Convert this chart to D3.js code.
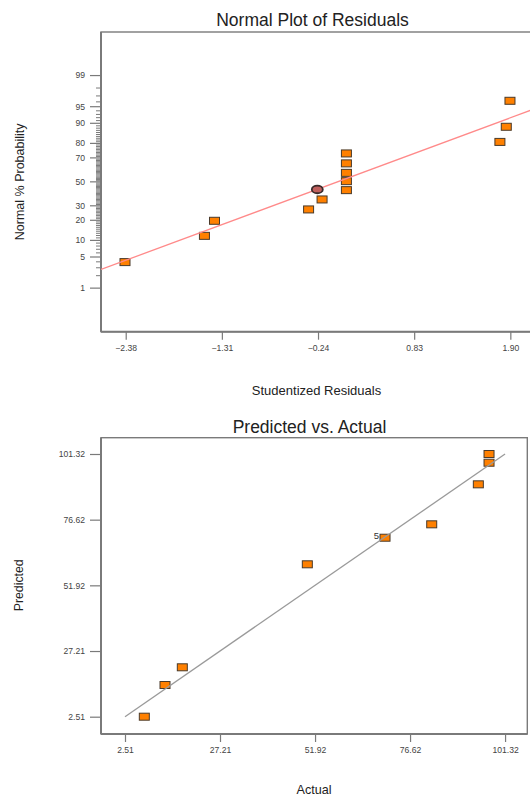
<!DOCTYPE html>
<html>
<head>
<meta charset="utf-8">
<script src="https://cdn.jsdelivr.net/npm/d3@7/dist/d3.min.js"></script>
<style>
  html, body { margin: 0; padding: 0; background: #fff; }
  svg { display: block; font-family: "Liberation Sans", Arial, sans-serif; }
</style>
</head>
<body>
<svg id="chart" width="530" height="796"></svg>
<script>
// ---- Normal plot of residuals ----
const residuals   = [-2.388, -1.504, -1.392, -0.345, -0.195, 0.076, 0.076, 0.076, 0.076, 0.076, 1.784, 1.855, 1.896];
const normalProb  = [3.95, 11.86, 19.7, 27.3, 35.0, 42.8, 50.6, 57.8, 65.7, 73.3, 80.9, 88.6, 96.2];
const selResidual = [-0.248];
const selProb     = [43.4];
const fitResidual = [-2.655, 2.13];
const fitProb     = [2.76, 94.17];
const resXTicks   = [-2.38, -1.31, -0.24, 0.83, 1.90];
const probTicks   = [1, 5, 10, 20, 30, 50, 70, 80, 90, 95, 99];
const probMinor   = d3.range(2, 99).filter(p => !probTicks.includes(p));

// ---- Predicted vs. actual ----
const actual      = [7.53, 12.91, 17.41, 49.91, 70.11, 82.25, 94.37, 97.15, 97.15];
const predicted   = [2.51, 14.43, 21.09, 59.83, 69.83, 74.87, 89.91, 98.04, 101.32];
const runCount    = [1, 1, 1, 1, 5, 1, 1, 1, 1];
const pvaTicks    = [2.51, 27.21, 51.92, 76.62, 101.32];

// Inverse standard normal CDF (Acklam)
function probit(p) {
  const a = [-3.969683028665376e+01, 2.209460984245205e+02, -2.759285104469687e+02, 1.383577518672690e+02, -3.066479806614716e+01, 2.506628277459239e+00];
  const b = [-5.447609879822406e+01, 1.615858368580409e+02, -1.556989798598866e+02, 6.680131188771972e+01, -1.328068155288572e+01];
  const c = [-7.784894002430293e-03, -3.223964580411365e-01, -2.400758277161838e+00, -2.549732539343734e+00, 4.374664141464968e+00, 2.938163982698783e+00];
  const d = [7.784695709041462e-03, 3.224671290700398e-01, 2.445134137142996e+00, 3.754408661907416e+00];
  const pl = 0.02425;
  let q, r;
  if (p < pl) {
    q = Math.sqrt(-2 * Math.log(p));
    return (((((c[0]*q+c[1])*q+c[2])*q+c[3])*q+c[4])*q+c[5]) / ((((d[0]*q+d[1])*q+d[2])*q+d[3])*q+1);
  } else if (p <= 1 - pl) {
    q = p - 0.5; r = q * q;
    return (((((a[0]*r+a[1])*r+a[2])*r+a[3])*r+a[4])*r+a[5])*q / (((((b[0]*r+b[1])*r+b[2])*r+b[3])*r+b[4])*r+1);
  } else {
    q = Math.sqrt(-2 * Math.log(1 - p));
    return -(((((c[0]*q+c[1])*q+c[2])*q+c[3])*q+c[4])*q+c[5]) / ((((d[0]*q+d[1])*q+d[2])*q+d[3])*q+1);
  }
}
const zOf = pct => probit(pct / 100);

const svg = d3.select("#chart");
const axisColor = "#7a7a7a";
const textColor = "#222";
const tickText = "#444";
const markFill = "#ff8000";
const markStroke = "#4a3a2a";
const MW = 10, MH = 7;

function styleAxis(g) {
  g.select(".domain").remove();
  g.selectAll(".tick line").attr("stroke", axisColor).attr("stroke-width", 1.2);
  g.selectAll(".tick text").attr("fill", tickText).attr("font-size", 8.6)
    .attr("font-family", "Liberation Sans, Arial, sans-serif");
}

// ================= Top panel =================
const tBox = { left: 101, right: 531, top: 32, bottom: 331.7 };
const xR = d3.scaleLinear().domain([-2.655, 2.13]).range([tBox.left, tBox.right]);
const yZ = d3.scaleLinear().domain([-3.28, 3.28]).range([tBox.bottom, tBox.top]);
const yP = p => yZ(zOf(p));

const g1 = svg.append("g");
g1.append("defs").append("clipPath").attr("id", "clipTop")
  .append("rect").attr("x", tBox.left).attr("y", tBox.top)
  .attr("width", tBox.right - tBox.left).attr("height", tBox.bottom - tBox.top);

// frame
g1.append("rect").attr("x", tBox.left).attr("y", tBox.top)
  .attr("width", tBox.right - tBox.left).attr("height", tBox.bottom - tBox.top)
  .attr("fill", "none").attr("stroke", axisColor).attr("stroke-width", 1.4);

// x axis
g1.append("g").attr("transform", `translate(0,${tBox.bottom})`)
  .call(d3.axisBottom(xR).tickValues(resXTicks).tickFormat(d3.format(".2f")).tickSize(8).tickPadding(5))
  .call(styleAxis);

// y axis on the normal-probability scale
const yTickG = g1.append("g");
yTickG.selectAll("line.minor").data(probMinor).join("line").attr("class", "minor")
  .attr("x1", tBox.left - 5).attr("x2", tBox.left)
  .attr("y1", d => yP(d)).attr("y2", d => yP(d))
  .attr("stroke", axisColor).attr("stroke-width", 1);
yTickG.selectAll("line.major").data(probTicks).join("line").attr("class", "major")
  .attr("x1", tBox.left - 11).attr("x2", tBox.left)
  .attr("y1", d => yP(d)).attr("y2", d => yP(d))
  .attr("stroke", axisColor).attr("stroke-width", 1.2);
yTickG.selectAll("text").data(probTicks).join("text")
  .attr("x", tBox.left - 16).attr("y", d => yP(d)).attr("dy", "0.34em")
  .attr("text-anchor", "end").attr("fill", tickText).attr("font-size", 8.6)
  .text(d => d);

// axis lines
g1.append("line").attr("x1", tBox.left).attr("x2", tBox.left).attr("y1", tBox.top).attr("y2", tBox.bottom)
  .attr("stroke", axisColor).attr("stroke-width", 2);
g1.append("line").attr("x1", tBox.left).attr("x2", tBox.right).attr("y1", tBox.bottom).attr("y2", tBox.bottom)
  .attr("stroke", axisColor).attr("stroke-width", 2);

// points
const topPts = residuals.map((r, i) => ({ r, p: normalProb[i] }));
g1.append("g").selectAll("rect").data(topPts).join("rect")
  .attr("x", d => xR(d.r) - MW / 2).attr("y", d => yP(d.p) - MH / 2)
  .attr("width", MW).attr("height", MH)
  .attr("fill", markFill).attr("stroke", markStroke).attr("stroke-width", 1);

// fitted line
g1.append("line").attr("clip-path", "url(#clipTop)")
  .attr("x1", xR(fitResidual[0])).attr("y1", yP(fitProb[0]))
  .attr("x2", xR(fitResidual[1])).attr("y2", yP(fitProb[1]))
  .attr("stroke", "#ff8a8a").attr("stroke-width", 1.3);

// highlighted run
g1.append("g").selectAll("ellipse").data(selResidual.map((r, i) => ({ r, p: selProb[i] }))).join("ellipse")
  .attr("cx", d => xR(d.r)).attr("cy", d => yP(d.p)).attr("rx", 5.5).attr("ry", 3.8)
  .attr("fill", "#c0605e").attr("stroke", "#3a2a2a").attr("stroke-width", 1.8);

// titles
g1.append("text").attr("x", 312.5).attr("y", 26).attr("text-anchor", "middle")
  .attr("font-size", 17.5).attr("fill", textColor).text("Normal Plot of Residuals");
g1.append("text").attr("x", 316.5).attr("y", 395).attr("text-anchor", "middle")
  .attr("font-size", 13).attr("fill", textColor).text("Studentized Residuals");
g1.append("text").attr("transform", `translate(23.5,${yP(50)}) rotate(-90)`).attr("text-anchor", "middle")
  .attr("font-size", 12.5).attr("fill", textColor).text("Normal % Probability");

// ================= Bottom panel =================
const bBox = { left: 101, right: 527.3, top: 437.7, bottom: 734 };
const xA = d3.scaleLinear().domain([-3.73, 107.1]).range([bBox.left, bBox.right]);
const yPr = d3.scaleLinear().domain([-4.0, 107.45]).range([bBox.bottom, bBox.top]);

const g2 = svg.append("g");
g2.append("rect").attr("x", bBox.left).attr("y", bBox.top)
  .attr("width", bBox.right - bBox.left).attr("height", bBox.bottom - bBox.top)
  .attr("fill", "none").attr("stroke", axisColor).attr("stroke-width", 1.4);

g2.append("g").attr("transform", `translate(0,${bBox.bottom})`)
  .call(d3.axisBottom(xA).tickValues(pvaTicks).tickFormat(d3.format(".2f")).tickSize(8).tickPadding(5))
  .call(styleAxis);
g2.append("g").attr("transform", `translate(${bBox.left},0)`)
  .call(d3.axisLeft(yPr).tickValues(pvaTicks).tickFormat(d3.format(".2f")).tickSize(11).tickPadding(5))
  .call(styleAxis);

g2.append("line").attr("x1", bBox.left).attr("x2", bBox.left).attr("y1", bBox.top).attr("y2", bBox.bottom)
  .attr("stroke", axisColor).attr("stroke-width", 2);
g2.append("line").attr("x1", bBox.left).attr("x2", bBox.right).attr("y1", bBox.bottom).attr("y2", bBox.bottom)
  .attr("stroke", axisColor).attr("stroke-width", 2);

const botPts = actual.map((a, i) => ({ a, p: predicted[i], n: runCount[i] }));
g2.append("g").selectAll("rect").data(botPts).join("rect")
  .attr("x", d => xA(d.a) - MW / 2).attr("y", d => yPr(d.p) - MH / 2)
  .attr("width", MW).attr("height", MH)
  .attr("fill", markFill).attr("stroke", markStroke).attr("stroke-width", 1);

// y = x reference line across the data range
const lo = d3.min(pvaTicks), hi = d3.max(pvaTicks);
g2.append("line")
  .attr("x1", xA(lo)).attr("y1", yPr(lo)).attr("x2", xA(hi)).attr("y2", yPr(hi))
  .attr("stroke", "#9a9a9a").attr("stroke-width", 1.3);

// replicate counts
g2.append("g").selectAll("text").data(botPts.filter(d => d.n > 1)).join("text")
  .attr("x", d => xA(d.a) - MW / 2 - 1).attr("y", d => yPr(d.p)).attr("dy", "0.1em")
  .attr("text-anchor", "end").attr("font-size", 9.5).attr("fill", "#333").text(d => d.n);

g2.append("text").attr("x", 309.5).attr("y", 433).attr("text-anchor", "middle")
  .attr("font-size", 17.5).attr("fill", textColor).text("Predicted vs. Actual");
g2.append("text").attr("x", 314).attr("y", 794).attr("text-anchor", "middle")
  .attr("font-size", 12.6).attr("fill", textColor).text("Actual");
g2.append("text").attr("transform", `translate(23,${yPr(51.92)}) rotate(-90)`).attr("text-anchor", "middle")
  .attr("font-size", 12.3).attr("fill", textColor).text("Predicted");
</script>
</body>
</html>
